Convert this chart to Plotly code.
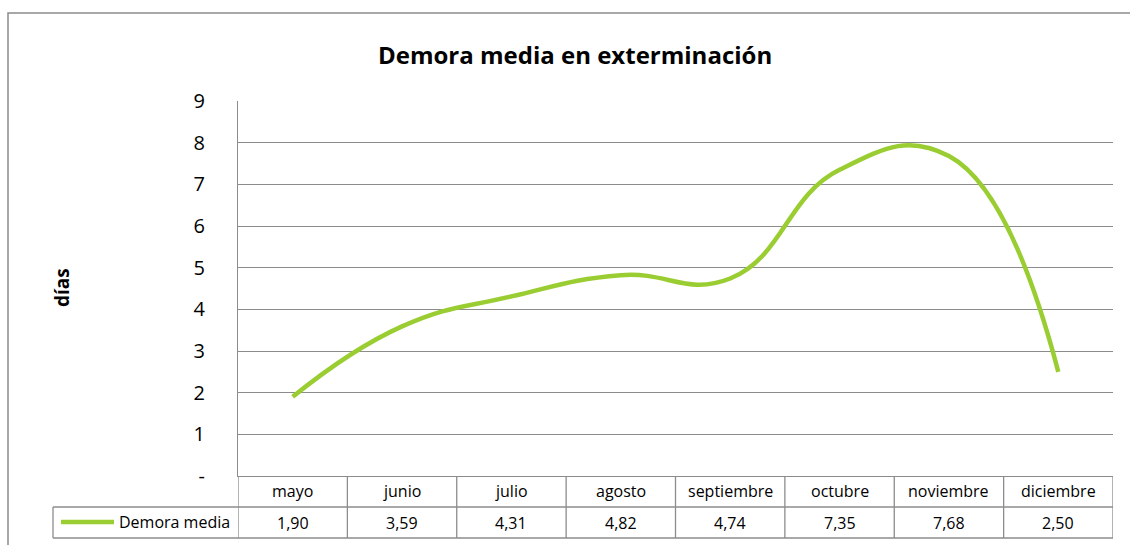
import plotly.graph_objects as go

categories = ["mayo", "junio", "julio", "agosto", "septiembre", "octubre", "noviembre", "diciembre"]
values = [1.90, 3.59, 4.31, 4.82, 4.74, 7.35, 7.68, 2.50]
series_name = "Demora media"
y_ticks = [0, 1, 2, 3, 4, 5, 6, 7, 8, 9]
y_tick_labels = ["-", "1", "2", "3", "4", "5", "6", "7", "8", "9"]
title_text = "Demora media en exterminación"
y_title = "días"

W, H = 1130, 545
L, R, T, B = 238, 1113, 101, 476
pw, ph = R - L, B - T
GREEN = "#9ACD32"
GRID = "#8c8c8c"
FONT = "Open Sans, Calibri, Carlito, sans-serif"

def px_x(px):
    return (px - L) / pw

def px_y(py):
    return (B - py) / ph

fig = go.Figure()
fig.add_trace(go.Scatter(
    x=list(range(len(categories))), y=values, mode="lines",
    line=dict(color=GREEN, width=4.5, shape="spline", smoothing=1.3),
    name=series_name, showlegend=False, hoverinfo="y",
))

shapes = []
# outer chart border (clipped at right/bottom)
shapes.append(dict(type="path", xref="paper", yref="paper",
                   path=f"M {px_x(8)},{px_y(560)} L {px_x(8)},{px_y(13)} L {px_x(1140)},{px_y(13)}",
                   line=dict(color=GRID, width=1.5)))
# table lines
y_hdr_top, y_sep, y_bot = px_y(476), px_y(507), px_y(538)
n = len(categories)
for i in range(n + 1):
    xb = i - 0.5
    shapes.append(dict(type="line", xref="x", yref="paper", x0=xb, x1=xb, y0=y_hdr_top, y1=y_bot,
                       line=dict(color=GRID, width=1.3)))
for yy in (y_sep, y_bot):
    shapes.append(dict(type="line", xref="paper", yref="paper", x0=px_x(53), x1=1, y0=yy, y1=yy,
                       line=dict(color=GRID, width=1.3)))
shapes.append(dict(type="line", xref="paper", yref="paper", x0=px_x(53), x1=px_x(53), y0=y_sep, y1=y_bot,
                   line=dict(color=GRID, width=1.3)))
# legend key in table
shapes.append(dict(type="line", xref="paper", yref="paper", x0=px_x(61), x1=px_x(114),
                   y0=px_y(522), y1=px_y(522), line=dict(color=GREEN, width=4.5)))

annotations = []
annotations.append(dict(text=f"<b>{title_text}</b>", xref="paper", yref="paper",
                        x=px_x(575), y=px_y(54), xanchor="center", yanchor="middle", showarrow=False,
                        font=dict(family=FONT, size=24, color="#000000")))
annotations.append(dict(text=f"<b>{y_title}</b>", xref="paper", yref="paper",
                        x=px_x(62), y=px_y(288), xanchor="center", yanchor="middle",
                        showarrow=False, textangle=-90,
                        font=dict(family=FONT, size=19, color="#000000")))
annotations.append(dict(text=series_name, xref="paper", yref="paper",
                        x=px_x(117), y=px_y(522), xanchor="left", yanchor="middle", showarrow=False,
                        font=dict(family=FONT, size=16, color="#000000")))
for i, (c, v) in enumerate(zip(categories, values)):
    annotations.append(dict(text=c, xref="x", yref="paper", x=i, y=px_y(491.5),
                            xanchor="center", yanchor="middle", showarrow=False,
                            font=dict(family=FONT, size=16, color="#000000")))
    annotations.append(dict(text=f"{v:.2f}".replace(".", ","), xref="x", yref="paper", x=i, y=px_y(522.5),
                            xanchor="center", yanchor="middle", showarrow=False,
                            font=dict(family=FONT, size=16, color="#000000")))

fig.update_layout(
    width=W, height=H,
    margin=dict(l=L, r=W - R, t=T, b=H - B, pad=0),
    paper_bgcolor="white", plot_bgcolor="white",
    shapes=shapes, annotations=annotations,
    xaxis=dict(range=[-0.5, n - 0.5], showgrid=False, zeroline=False, showticklabels=False,
               showline=True, linecolor=GRID, linewidth=1.3, fixedrange=True),
    yaxis=dict(range=[0, 9], tickvals=y_ticks, ticktext=y_tick_labels, showgrid=True,
               gridcolor=GRID, gridwidth=1, zeroline=False, showline=True, linecolor=GRID, linewidth=1.3,
               ticks="outside", ticklen=28, tickcolor="rgba(0,0,0,0)",
               tickfont=dict(family=FONT, size=20, color="#000000"), fixedrange=True),
    showlegend=False,
)
fig.write_html("out.html", config={"displayModeBar": False},
               post_script="document.body.style.margin='0px';document.body.style.overflow='hidden';")
